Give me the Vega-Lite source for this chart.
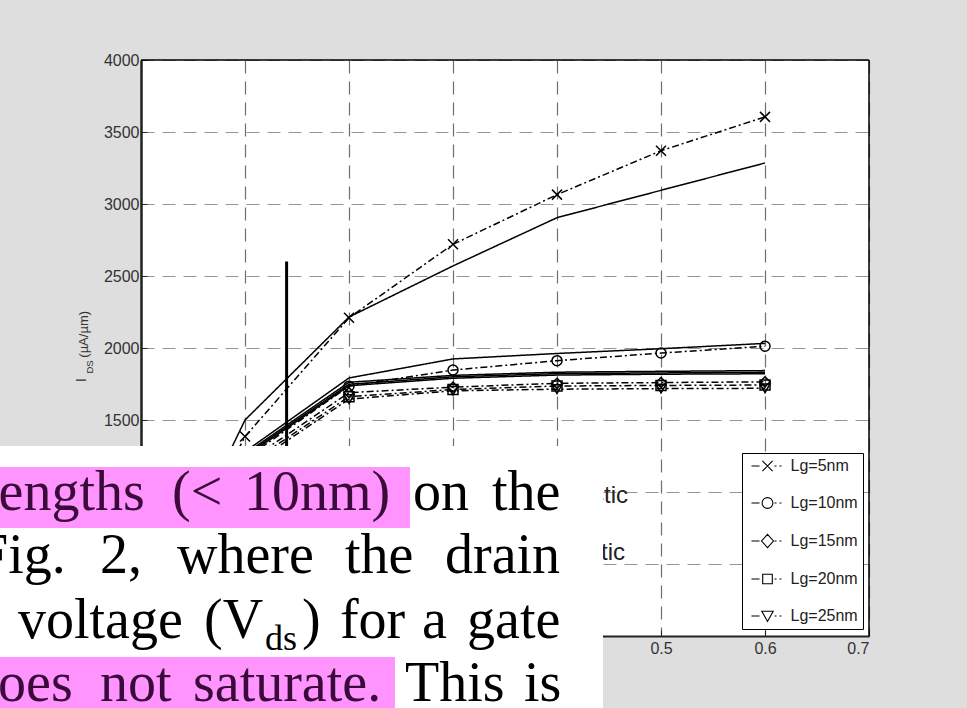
{
  "$schema": "https://vega.github.io/schema/vega-lite/v6.json",
  "width": 728,
  "height": 576,
  "autosize": {"type": "none"},
  "padding": {"left": 141, "top": 60, "right": 98, "bottom": 72},
  "background": "#dedede",
  "view": {"fill": "white", "stroke": null},
  "config": {
    "axisX": {"grid": true, "gridColor": "#6e6e6e", "gridDash": [13, 8], "gridWidth": 1.2, "domainColor": "#222", "domainWidth": 2, "tickColor": "#222", "tickSize": -6, "labelPadding": 10, "labelFont": "Liberation Sans", "labelFontSize": 16, "labelColor": "#333"},
    "axisY": {"grid": true, "gridColor": "#959595", "gridDash": [13, 8], "gridWidth": 1.2, "domainColor": "#222", "domainWidth": 2.5, "tickColor": "#222", "tickSize": -6, "labelPadding": 8, "labelFont": "Liberation Sans", "labelFontSize": 16, "labelColor": "#333"}
  },
  "datasets": {
    "series": [
      {"Lg": "Lg=5nm", "type": "sim", "Vds": 0, "Id": 0}, {"Lg": "Lg=5nm", "type": "sim", "Vds": 0.1, "Id": 1385}, {"Lg": "Lg=5nm", "type": "sim", "Vds": 0.2, "Id": 2210}, {"Lg": "Lg=5nm", "type": "sim", "Vds": 0.3, "Id": 2720}, {"Lg": "Lg=5nm", "type": "sim", "Vds": 0.4, "Id": 3065}, {"Lg": "Lg=5nm", "type": "sim", "Vds": 0.5, "Id": 3370}, {"Lg": "Lg=5nm", "type": "sim", "Vds": 0.6, "Id": 3605},
      {"Lg": "Lg=5nm", "type": "model", "Vds": 0, "Id": 0}, {"Lg": "Lg=5nm", "type": "model", "Vds": 0.1, "Id": 1500}, {"Lg": "Lg=5nm", "type": "model", "Vds": 0.2, "Id": 2215}, {"Lg": "Lg=5nm", "type": "model", "Vds": 0.3, "Id": 2570}, {"Lg": "Lg=5nm", "type": "model", "Vds": 0.4, "Id": 2905}, {"Lg": "Lg=5nm", "type": "model", "Vds": 0.5, "Id": 3095}, {"Lg": "Lg=5nm", "type": "model", "Vds": 0.6, "Id": 3285},
      {"Lg": "Lg=10nm", "type": "sim", "Vds": 0, "Id": 0}, {"Lg": "Lg=10nm", "type": "sim", "Vds": 0.1, "Id": 1230}, {"Lg": "Lg=10nm", "type": "sim", "Vds": 0.2, "Id": 1735}, {"Lg": "Lg=10nm", "type": "sim", "Vds": 0.3, "Id": 1847}, {"Lg": "Lg=10nm", "type": "sim", "Vds": 0.4, "Id": 1912}, {"Lg": "Lg=10nm", "type": "sim", "Vds": 0.5, "Id": 1965}, {"Lg": "Lg=10nm", "type": "sim", "Vds": 0.6, "Id": 2012},
      {"Lg": "Lg=10nm", "type": "model", "Vds": 0, "Id": 0}, {"Lg": "Lg=10nm", "type": "model", "Vds": 0.1, "Id": 1280}, {"Lg": "Lg=10nm", "type": "model", "Vds": 0.2, "Id": 1792}, {"Lg": "Lg=10nm", "type": "model", "Vds": 0.3, "Id": 1924}, {"Lg": "Lg=10nm", "type": "model", "Vds": 0.4, "Id": 1962}, {"Lg": "Lg=10nm", "type": "model", "Vds": 0.5, "Id": 1995}, {"Lg": "Lg=10nm", "type": "model", "Vds": 0.6, "Id": 2032},
      {"Lg": "Lg=15nm", "type": "sim", "Vds": 0, "Id": 0}, {"Lg": "Lg=15nm", "type": "sim", "Vds": 0.1, "Id": 1200}, {"Lg": "Lg=15nm", "type": "sim", "Vds": 0.2, "Id": 1690}, {"Lg": "Lg=15nm", "type": "sim", "Vds": 0.3, "Id": 1728}, {"Lg": "Lg=15nm", "type": "sim", "Vds": 0.4, "Id": 1755}, {"Lg": "Lg=15nm", "type": "sim", "Vds": 0.5, "Id": 1760}, {"Lg": "Lg=15nm", "type": "sim", "Vds": 0.6, "Id": 1765},
      {"Lg": "Lg=15nm", "type": "model", "Vds": 0, "Id": 0}, {"Lg": "Lg=15nm", "type": "model", "Vds": 0.1, "Id": 1265}, {"Lg": "Lg=15nm", "type": "model", "Vds": 0.2, "Id": 1762}, {"Lg": "Lg=15nm", "type": "model", "Vds": 0.3, "Id": 1810}, {"Lg": "Lg=15nm", "type": "model", "Vds": 0.4, "Id": 1832}, {"Lg": "Lg=15nm", "type": "model", "Vds": 0.5, "Id": 1838}, {"Lg": "Lg=15nm", "type": "model", "Vds": 0.6, "Id": 1843},
      {"Lg": "Lg=20nm", "type": "sim", "Vds": 0, "Id": 0}, {"Lg": "Lg=20nm", "type": "sim", "Vds": 0.1, "Id": 1180}, {"Lg": "Lg=20nm", "type": "sim", "Vds": 0.2, "Id": 1662}, {"Lg": "Lg=20nm", "type": "sim", "Vds": 0.3, "Id": 1712}, {"Lg": "Lg=20nm", "type": "sim", "Vds": 0.4, "Id": 1736}, {"Lg": "Lg=20nm", "type": "sim", "Vds": 0.5, "Id": 1740}, {"Lg": "Lg=20nm", "type": "sim", "Vds": 0.6, "Id": 1743},
      {"Lg": "Lg=20nm", "type": "model", "Vds": 0, "Id": 0}, {"Lg": "Lg=20nm", "type": "model", "Vds": 0.1, "Id": 1255}, {"Lg": "Lg=20nm", "type": "model", "Vds": 0.2, "Id": 1748}, {"Lg": "Lg=20nm", "type": "model", "Vds": 0.3, "Id": 1800}, {"Lg": "Lg=20nm", "type": "model", "Vds": 0.4, "Id": 1822}, {"Lg": "Lg=20nm", "type": "model", "Vds": 0.5, "Id": 1827}, {"Lg": "Lg=20nm", "type": "model", "Vds": 0.6, "Id": 1831},
      {"Lg": "Lg=25nm", "type": "sim", "Vds": 0, "Id": 0}, {"Lg": "Lg=25nm", "type": "sim", "Vds": 0.1, "Id": 1160}, {"Lg": "Lg=25nm", "type": "sim", "Vds": 0.2, "Id": 1645}, {"Lg": "Lg=25nm", "type": "sim", "Vds": 0.3, "Id": 1703}, {"Lg": "Lg=25nm", "type": "sim", "Vds": 0.4, "Id": 1714}, {"Lg": "Lg=25nm", "type": "sim", "Vds": 0.5, "Id": 1718}, {"Lg": "Lg=25nm", "type": "sim", "Vds": 0.6, "Id": 1720},
      {"Lg": "Lg=25nm", "type": "model", "Vds": 0, "Id": 0}, {"Lg": "Lg=25nm", "type": "model", "Vds": 0.1, "Id": 1245}, {"Lg": "Lg=25nm", "type": "model", "Vds": 0.2, "Id": 1738}, {"Lg": "Lg=25nm", "type": "model", "Vds": 0.3, "Id": 1790}, {"Lg": "Lg=25nm", "type": "model", "Vds": 0.4, "Id": 1812}, {"Lg": "Lg=25nm", "type": "model", "Vds": 0.5, "Id": 1818}, {"Lg": "Lg=25nm", "type": "model", "Vds": 0.6, "Id": 1821}
    ],
    "para": [
      {"t": "lengths", "v": -0.1519, "i": 875, "hl": true},
      {"t": "(<", "v": 0.0298, "i": 875, "hl": true},
      {"t": "10nm)", "v": 0.099, "i": 875, "hl": true},
      {"t": "on", "v": 0.2615, "i": 875, "hl": false},
      {"t": "the", "v": 0.3375, "i": 875, "hl": false},
      {"t": "Fig.", "v": -0.1577, "i": 437.5, "hl": false},
      {"t": "2,", "v": -0.0394, "i": 437.5, "hl": false},
      {"t": "where", "v": 0.0346, "i": 437.5, "hl": false},
      {"t": "the", "v": 0.1962, "i": 437.5, "hl": false},
      {"t": "drain", "v": 0.2923, "i": 437.5, "hl": false},
      {"t": "voltage", "v": -0.1183, "i": -14, "hl": false},
      {"t": "(V", "v": 0.0606, "i": -14, "hl": false},
      {"t": ")", "v": 0.1548, "i": -14, "hl": false},
      {"t": "for", "v": 0.1913, "i": -14, "hl": false},
      {"t": "a", "v": 0.2702, "i": -14, "hl": false},
      {"t": "gate", "v": 0.3135, "i": -14, "hl": false},
      {"t": "does", "v": -0.1644, "i": -451, "hl": true},
      {"t": "not", "v": -0.0394, "i": -451, "hl": true},
      {"t": "saturate.", "v": 0.05, "i": -451, "hl": true},
      {"t": "This", "v": 0.2538, "i": -451, "hl": false},
      {"t": "is", "v": 0.3683, "i": -451, "hl": false}
    ]
  },
  "layer": [
    {
      "data": {"name": "series"},
      "mark": {"type": "line", "color": "black", "strokeWidth": 1.5},
      "encoding": {
        "x": {"field": "Vds", "type": "quantitative", "title": null, "scale": {"domain": [0, 0.7], "nice": false, "zero": false}, "axis": {"values": [0, 0.1, 0.2, 0.3, 0.4, 0.5, 0.6, 0.7], "format": ".1~f"}},
        "y": {"field": "Id", "type": "quantitative", "title": null, "scale": {"domain": [0, 4000], "nice": false}, "axis": {"values": [0, 500, 1000, 1500, 2000, 2500, 3000, 3500, 4000], "format": "d"}},
        "detail": [{"field": "Lg"}, {"field": "type"}],
        "strokeDash": {"field": "type", "type": "nominal", "scale": {"domain": ["model", "sim"], "range": [[1, 0], [7, 3, 2, 3]]}, "legend": null}
      }
    },
    {
      "data": {"name": "series"},
      "transform": [{"filter": "datum.type === 'sim'"}],
      "mark": {"type": "point", "filled": false, "color": "black", "strokeWidth": 1.5, "size": 100, "opacity": 1},
      "encoding": {
        "x": {"field": "Vds", "type": "quantitative", "title": null},
        "y": {"field": "Id", "type": "quantitative", "title": null},
        "shape": {"field": "Lg", "type": "nominal", "scale": {"domain": ["Lg=5nm", "Lg=10nm", "Lg=15nm", "Lg=20nm", "Lg=25nm"], "range": ["M-1,-1L1,1M-1,1L1,-1", "circle", "diamond", "square", "triangle-down"]}, "legend": null}
      }
    },
    {
      "data": {"name": "series"},
      "transform": [{"filter": "datum.type === 'sim' && datum.Vds === 0"}],
      "mark": {"type": "point", "filled": false, "color": "black", "strokeWidth": 1.1, "size": 144, "opacity": 1},
      "encoding": {
        "x": {"field": "Vds", "type": "quantitative", "title": null},
        "y": {"field": "Id", "type": "quantitative", "title": null},
        "shape": {"field": "Lg", "type": "nominal",
          "scale": {"domain": ["Lg=5nm", "Lg=10nm", "Lg=15nm", "Lg=20nm", "Lg=25nm"],
            "range": [
              "M-2.67,0H-1.33M1.17,0H1.5M2,0H2.33M-0.85,-0.85L0.85,0.85M-0.85,0.85L0.85,-0.85",
              "M-2.67,0H-1.33M1.17,0H1.5M2,0H2.33M0.9,0A0.9,0.9 0 1,1 -0.9,0A0.9,0.9 0 1,1 0.9,0",
              "M-2.67,0H-1.33M1.17,0H1.5M2,0H2.33M0,-1.1L1,0L0,1.1L-1,0Z",
              "M-2.67,0H-1.33M1.17,0H1.5M2,0H2.33M-0.8,-0.8H0.8V0.8H-0.8Z",
              "M-2.67,0H-1.33M1.17,0H1.5M2,0H2.33M-0.95,-0.8H0.95L0,0.9Z"
            ]},
          "legend": {"orient": "none", "legendX": 601, "legendY": 393, "title": null, "padding": 5, "strokeColor": "black", "fillColor": "white", "symbolSize": 144, "symbolOffset": 12.5, "labelOffset": 15, "rowPadding": 21, "labelFont": "Liberation Sans", "labelFontSize": 16, "labelColor": "#222", "labelExpr": "datum.label + '\u00a0\u00a0'", "symbolStrokeWidth": 1.1, "symbolStrokeColor": "black", "symbolFillColor": "transparent", "labelLimit": 200}
        }
      }
    },
    {
      "data": {"values": [{}]},
      "mark": {"type": "rule", "color": "black", "strokeWidth": 3},
      "encoding": {"x": {"datum": 0.14}, "y": {"datum": 2600}, "y2": {"datum": 0}}
    },
    {
      "data": {"values": [{}]},
      "mark": {"type": "rule", "color": "black", "strokeWidth": 1.5},
      "encoding": {"x": {"datum": 0}, "x2": {"datum": 0.7}, "y": {"datum": 4000}}
    },
    {
      "data": {"values": [{}]},
      "mark": {"type": "rule", "color": "black", "strokeWidth": 1.5},
      "encoding": {"x": {"datum": 0.7}, "y": {"datum": 0}, "y2": {"datum": 4000}}
    },
    {
      "data": {"values": [{}]},
      "mark": {"type": "text", "align": "right", "baseline": "alphabetic", "font": "Liberation Sans", "fontSize": 24, "color": "#222"},
      "encoding": {"x": {"datum": 0.4683}, "y": {"datum": 924}, "text": {"value": "Ballistic"}}
    },
    {
      "data": {"values": [{}]},
      "mark": {"type": "text", "align": "right", "baseline": "alphabetic", "font": "Liberation Sans", "fontSize": 24, "color": "#222"},
      "encoding": {"x": {"datum": 0.4655}, "y": {"datum": 528}, "text": {"value": "Quasi-ballistic"}}
    },
    {
      "data": {"values": [{}]},
      "mark": {"type": "text", "angle": 270, "align": "center", "baseline": "middle", "font": "Liberation Sans", "fontSize": 14, "color": "#333"},
      "encoding": {"x": {"datum": -0.0572}, "y": {"datum": 1778}, "text": {"value": "I"}}
    },
    {
      "data": {"values": [{}]},
      "mark": {"type": "text", "angle": 270, "align": "center", "baseline": "middle", "font": "Liberation Sans", "fontSize": 9.5, "color": "#333"},
      "encoding": {"x": {"datum": -0.049}, "y": {"datum": 1868}, "text": {"value": "DS"}}
    },
    {
      "data": {"values": [{}]},
      "mark": {"type": "text", "angle": 270, "align": "center", "baseline": "middle", "font": "Liberation Sans", "fontSize": 13, "color": "#333"},
      "encoding": {"x": {"datum": -0.0548}, "y": {"datum": 2095}, "text": {"value": "(µA/µm)"}}
    },
    {
      "data": {"values": [{}]},
      "mark": {"type": "rect", "color": "white", "opacity": 1},
      "encoding": {"x": {"datum": -0.2}, "x2": {"datum": 0.4442}, "y": {"datum": 1319}, "y2": {"datum": -700}}
    },
    {
      "data": {"values": [{}]},
      "mark": {"type": "rect", "color": "#ff94ff", "opacity": 1},
      "encoding": {"x": {"datum": -0.2}, "x2": {"datum": 0.2587}, "y": {"datum": 1174}, "y2": {"datum": 750}}
    },
    {
      "data": {"values": [{}]},
      "mark": {"type": "rect", "color": "#ff94ff", "opacity": 1},
      "encoding": {"x": {"datum": -0.2}, "x2": {"datum": 0.2442}, "y": {"datum": -146}, "y2": {"datum": -700}}
    },
    {
      "data": {"name": "para"},
      "mark": {"type": "text", "align": "left", "baseline": "alphabetic", "font": "Liberation Serif", "fontSize": 56},
      "encoding": {
        "x": {"field": "v", "type": "quantitative", "title": null},
        "y": {"field": "i", "type": "quantitative", "title": null},
        "text": {"field": "t"},
        "color": {"condition": {"test": "datum.hl", "value": "#3a0a3a"}, "value": "black"}
      }
    },
    {
      "data": {"values": [{}]},
      "mark": {"type": "text", "align": "left", "baseline": "alphabetic", "font": "Liberation Serif", "fontSize": 36, "color": "black"},
      "encoding": {"x": {"datum": 0.1192}, "y": {"datum": -97}, "text": {"value": "ds"}}
    }
  ],
  "resolve": {"scale": {"shape": "independent"}, "legend": {"shape": "independent"}}
}
